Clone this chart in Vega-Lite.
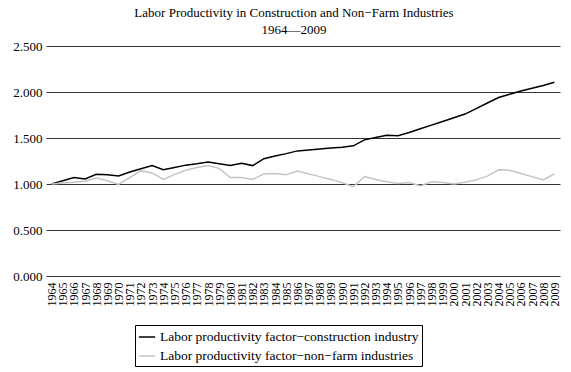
{
  "$schema": "https://vega.github.io/schema/vega-lite/v6.json",
  "width": 514,
  "height": 230,
  "autosize": {"type": "none"},
  "padding": {"left": 46, "top": 46, "right": 11, "bottom": 96},
  "background": "white",
  "title": {
    "text": ["Labor Productivity in Construction and Non−Farm Industries", "1964—2009"],
    "font": "Liberation Serif",
    "fontSize": 13,
    "fontWeight": "normal",
    "color": "#000",
    "lineHeight": 17,
    "anchor": "middle",
    "dx": -9,
    "offset": 3
  },
  "datasets": {
    "rows": [
      {"year": "1964", "series": "Labor productivity factor−construction industry", "value": 1.000},
      {"year": "1965", "series": "Labor productivity factor−construction industry", "value": 1.035},
      {"year": "1966", "series": "Labor productivity factor−construction industry", "value": 1.07},
      {"year": "1967", "series": "Labor productivity factor−construction industry", "value": 1.055},
      {"year": "1968", "series": "Labor productivity factor−construction industry", "value": 1.105},
      {"year": "1969", "series": "Labor productivity factor−construction industry", "value": 1.10},
      {"year": "1970", "series": "Labor productivity factor−construction industry", "value": 1.087},
      {"year": "1971", "series": "Labor productivity factor−construction industry", "value": 1.13},
      {"year": "1972", "series": "Labor productivity factor−construction industry", "value": 1.165},
      {"year": "1973", "series": "Labor productivity factor−construction industry", "value": 1.20},
      {"year": "1974", "series": "Labor productivity factor−construction industry", "value": 1.155},
      {"year": "1975", "series": "Labor productivity factor−construction industry", "value": 1.18},
      {"year": "1976", "series": "Labor productivity factor−construction industry", "value": 1.205},
      {"year": "1977", "series": "Labor productivity factor−construction industry", "value": 1.22},
      {"year": "1978", "series": "Labor productivity factor−construction industry", "value": 1.24},
      {"year": "1979", "series": "Labor productivity factor−construction industry", "value": 1.22},
      {"year": "1980", "series": "Labor productivity factor−construction industry", "value": 1.20},
      {"year": "1981", "series": "Labor productivity factor−construction industry", "value": 1.225},
      {"year": "1982", "series": "Labor productivity factor−construction industry", "value": 1.20},
      {"year": "1983", "series": "Labor productivity factor−construction industry", "value": 1.275},
      {"year": "1984", "series": "Labor productivity factor−construction industry", "value": 1.305},
      {"year": "1985", "series": "Labor productivity factor−construction industry", "value": 1.33},
      {"year": "1986", "series": "Labor productivity factor−construction industry", "value": 1.36},
      {"year": "1987", "series": "Labor productivity factor−construction industry", "value": 1.37},
      {"year": "1988", "series": "Labor productivity factor−construction industry", "value": 1.38},
      {"year": "1989", "series": "Labor productivity factor−construction industry", "value": 1.39},
      {"year": "1990", "series": "Labor productivity factor−construction industry", "value": 1.40},
      {"year": "1991", "series": "Labor productivity factor−construction industry", "value": 1.415},
      {"year": "1992", "series": "Labor productivity factor−construction industry", "value": 1.48},
      {"year": "1993", "series": "Labor productivity factor−construction industry", "value": 1.505},
      {"year": "1994", "series": "Labor productivity factor−construction industry", "value": 1.53},
      {"year": "1995", "series": "Labor productivity factor−construction industry", "value": 1.525},
      {"year": "1996", "series": "Labor productivity factor−construction industry", "value": 1.56},
      {"year": "1997", "series": "Labor productivity factor−construction industry", "value": 1.60},
      {"year": "1998", "series": "Labor productivity factor−construction industry", "value": 1.64},
      {"year": "1999", "series": "Labor productivity factor−construction industry", "value": 1.68},
      {"year": "2000", "series": "Labor productivity factor−construction industry", "value": 1.72},
      {"year": "2001", "series": "Labor productivity factor−construction industry", "value": 1.76},
      {"year": "2002", "series": "Labor productivity factor−construction industry", "value": 1.82},
      {"year": "2003", "series": "Labor productivity factor−construction industry", "value": 1.88},
      {"year": "2004", "series": "Labor productivity factor−construction industry", "value": 1.94},
      {"year": "2005", "series": "Labor productivity factor−construction industry", "value": 1.975},
      {"year": "2006", "series": "Labor productivity factor−construction industry", "value": 2.01},
      {"year": "2007", "series": "Labor productivity factor−construction industry", "value": 2.04},
      {"year": "2008", "series": "Labor productivity factor−construction industry", "value": 2.07},
      {"year": "2009", "series": "Labor productivity factor−construction industry", "value": 2.105},
      {"year": "1964", "series": "Labor productivity factor−non−farm industries", "value": 1.000},
      {"year": "1965", "series": "Labor productivity factor−non−farm industries", "value": 1.01},
      {"year": "1966", "series": "Labor productivity factor−non−farm industries", "value": 1.02},
      {"year": "1967", "series": "Labor productivity factor−non−farm industries", "value": 1.03},
      {"year": "1968", "series": "Labor productivity factor−non−farm industries", "value": 1.065},
      {"year": "1969", "series": "Labor productivity factor−non−farm industries", "value": 1.035},
      {"year": "1970", "series": "Labor productivity factor−non−farm industries", "value": 0.995},
      {"year": "1971", "series": "Labor productivity factor−non−farm industries", "value": 1.07},
      {"year": "1972", "series": "Labor productivity factor−non−farm industries", "value": 1.145},
      {"year": "1973", "series": "Labor productivity factor−non−farm industries", "value": 1.12},
      {"year": "1974", "series": "Labor productivity factor−non−farm industries", "value": 1.05},
      {"year": "1975", "series": "Labor productivity factor−non−farm industries", "value": 1.105},
      {"year": "1976", "series": "Labor productivity factor−non−farm industries", "value": 1.15},
      {"year": "1977", "series": "Labor productivity factor−non−farm industries", "value": 1.18},
      {"year": "1978", "series": "Labor productivity factor−non−farm industries", "value": 1.20},
      {"year": "1979", "series": "Labor productivity factor−non−farm industries", "value": 1.17},
      {"year": "1980", "series": "Labor productivity factor−non−farm industries", "value": 1.07},
      {"year": "1981", "series": "Labor productivity factor−non−farm industries", "value": 1.07},
      {"year": "1982", "series": "Labor productivity factor−non−farm industries", "value": 1.05},
      {"year": "1983", "series": "Labor productivity factor−non−farm industries", "value": 1.11},
      {"year": "1984", "series": "Labor productivity factor−non−farm industries", "value": 1.115},
      {"year": "1985", "series": "Labor productivity factor−non−farm industries", "value": 1.10},
      {"year": "1986", "series": "Labor productivity factor−non−farm industries", "value": 1.14},
      {"year": "1987", "series": "Labor productivity factor−non−farm industries", "value": 1.11},
      {"year": "1988", "series": "Labor productivity factor−non−farm industries", "value": 1.08},
      {"year": "1989", "series": "Labor productivity factor−non−farm industries", "value": 1.05},
      {"year": "1990", "series": "Labor productivity factor−non−farm industries", "value": 1.015},
      {"year": "1991", "series": "Labor productivity factor−non−farm industries", "value": 0.97},
      {"year": "1992", "series": "Labor productivity factor−non−farm industries", "value": 1.08},
      {"year": "1993", "series": "Labor productivity factor−non−farm industries", "value": 1.05},
      {"year": "1994", "series": "Labor productivity factor−non−farm industries", "value": 1.025},
      {"year": "1995", "series": "Labor productivity factor−non−farm industries", "value": 1.005},
      {"year": "1996", "series": "Labor productivity factor−non−farm industries", "value": 1.015},
      {"year": "1997", "series": "Labor productivity factor−non−farm industries", "value": 0.98},
      {"year": "1998", "series": "Labor productivity factor−non−farm industries", "value": 1.025},
      {"year": "1999", "series": "Labor productivity factor−non−farm industries", "value": 1.015},
      {"year": "2000", "series": "Labor productivity factor−non−farm industries", "value": 1.00},
      {"year": "2001", "series": "Labor productivity factor−non−farm industries", "value": 1.02},
      {"year": "2002", "series": "Labor productivity factor−non−farm industries", "value": 1.045},
      {"year": "2003", "series": "Labor productivity factor−non−farm industries", "value": 1.085},
      {"year": "2004", "series": "Labor productivity factor−non−farm industries", "value": 1.155},
      {"year": "2005", "series": "Labor productivity factor−non−farm industries", "value": 1.15},
      {"year": "2006", "series": "Labor productivity factor−non−farm industries", "value": 1.115},
      {"year": "2007", "series": "Labor productivity factor−non−farm industries", "value": 1.08},
      {"year": "2008", "series": "Labor productivity factor−non−farm industries", "value": 1.045},
      {"year": "2009", "series": "Labor productivity factor−non−farm industries", "value": 1.11}
    ]
  },
  "data": {"name": "rows"},
  "mark": {"type": "line", "strokeWidth": 1.5},
  "encoding": {
    "x": {
      "field": "year",
      "type": "ordinal",
      "title": null,
      "scale": {"type": "point", "padding": 0.5},
      "axis": {
        "labelAngle": -90,
        "labelFont": "Liberation Serif",
        "labelFontSize": 12,
        "labelColor": "#000",
        "labelPadding": 6,
        "ticks": false,
        "domain": false,
        "grid": false
      }
    },
    "y": {
      "field": "value",
      "type": "quantitative",
      "title": null,
      "scale": {"domain": [0, 2.5], "nice": false},
      "axis": {
        "values": [0, 0.5, 1, 1.5, 2, 2.5],
        "format": ".3f",
        "labelFont": "Liberation Serif",
        "labelFontSize": 13,
        "labelColor": "#000",
        "labelPadding": 4,
        "ticks": false,
        "domain": false,
        "grid": true,
        "gridColor": "#333",
        "gridWidth": 1
      }
    },
    "color": {
      "field": "series",
      "type": "nominal",
      "scale": {
        "domain": ["Labor productivity factor−construction industry", "Labor productivity factor−non−farm industries"],
        "range": ["#000000", "#c4c4c4"]
      },
      "legend": {
        "title": null,
        "orient": "none",
        "legendX": 89,
        "legendY": 279,
        "direction": "vertical",
        "symbolType": "stroke",
        "symbolSize": 260,
        "symbolStrokeWidth": 1.5,
        "labelFont": "Liberation Serif",
        "labelFontSize": 13.5,
        "labelColor": "#000",
        "labelLimit": 400,
        "labelOffset": 4,
        "rowPadding": 3,
        "padding": 3,
        "strokeColor": "#000",
        "fillColor": "white"
      }
    }
  },
  "config": {"view": {"stroke": null}}
}
